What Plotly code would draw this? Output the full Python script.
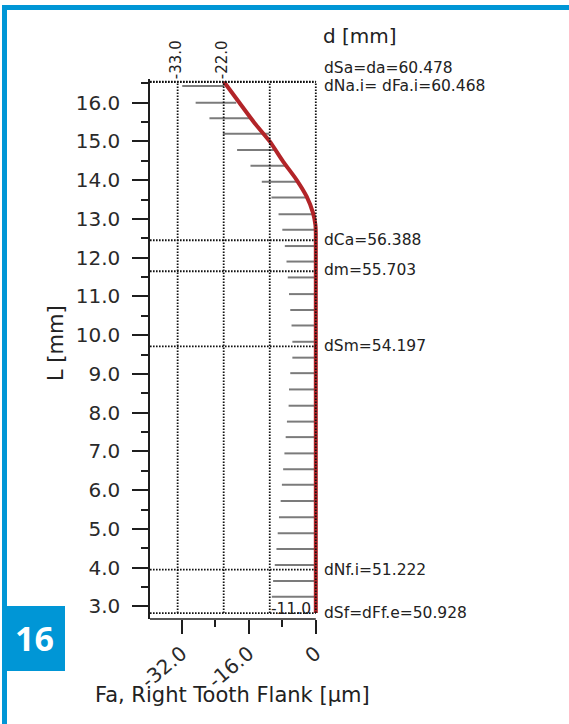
import plotly.graph_objects as go

# Roll length positions L [mm] of the evaluated flank points
bar_L = [16.43, 16.00, 15.60, 15.20, 14.78, 14.37, 13.96, 13.55, 13.12, 12.72,
         12.30, 11.90, 11.49, 11.06, 10.65, 10.25, 9.83, 9.42, 9.02, 8.60,
         8.18, 7.77, 7.37, 6.95, 6.54, 6.14, 5.72, 5.30, 4.89, 4.48,
         4.07, 3.66, 3.25]
# Deviation bars: start (left) and end (right) in micrometres
bar_start = [-31.9, -28.7, -25.4, -22.2, -18.8, -15.6, -12.9, -10.6, -8.9, -8.0,
             -7.4, -7.0, -6.7, -6.4, -6.1, -5.8, -5.6, -5.6, -6.1, -6.4,
             -6.5, -6.9, -7.2, -7.5, -7.8, -8.1, -8.4, -8.8, -9.1, -9.4,
             -9.8, -10.2, -10.5]
bar_end = [-21.9, -19.0, -15.8, -11.1, -9.8, -7.0, -4.4, -1.8, -0.65, 0.0,
           0.0, 0.0, 0.0, 0.0, 0.0, 0.0, 0.0, 0.0, 0.0, 0.0,
           0.0, 0.0, 0.0, 0.0, 0.0, 0.0, 0.0, 0.0, 0.0, 0.0,
           0.0, 0.0, 0.0]

# Profile modification (tip relief) curve
mod_L = [16.54, 15.99, 15.47, 15.00, 14.48, 14.01, 13.58, 13.15, 12.85, 12.64, 2.83]
mod_F = [-21.95, -18.2, -14.6, -11.0, -7.8, -4.6, -2.2, -0.65, -0.1, 0.0, 0.0]

# Characteristic diameters and their roll length positions
ref_labels = ["dSa=da=60.478", "dNa.i= dFa.i=60.468", "dCa=56.388", "dm=55.703",
              "dSm=54.197", "dNf.i=51.222", "dSf=dFf.e=50.928"]
ref_L = [16.54, 16.53, 12.45, 11.65, 9.71, 3.95, 2.83]

# Tolerance grid lines [µm]
tol_vals = [-33.0, -22.0, -11.0, 0.0]

# Axis ticks
y_ticks = [3, 4, 5, 6, 7, 8, 9, 10, 11, 12, 13, 14, 15, 16]
x_ticks = [-32.0, -16.0, 0.0]
x_ticktext = ["-32.0", "-16.0", "0"]
x_minor = [-24.0, -8.0]

# ---- layout geometry ----
W, H = 569, 724
ML, MR, MT, MB = 150, 249, 79, 105
PW, PH = W - ML - MR, H - MT - MB
X_RANGE = [-39.6, 1.0]
Y_RANGE = [2.677, 16.61]


def fx(px):
    return (px - ML) / PW


def fy(py):
    return (H - MB - py) / PH


FONT = "DejaVu Sans"
TXT = "#222222"
DOT = dict(color="#111111", width=1.8, dash="1.6px,1.4px")

fig = go.Figure()

# gray deviation bars
bx, by = [], []
for L, s, e in zip(bar_L, bar_start, bar_end):
    bx += [s, e, None]
    by += [L, L, None]
fig.add_trace(go.Scatter(x=bx, y=by, mode="lines",
                         line=dict(color="#7b7b7b", width=2),
                         hoverinfo="skip", showlegend=False))

# modification curve
fig.add_trace(go.Scatter(x=mod_F, y=mod_L, mode="lines",
                         line=dict(color="#b22428", width=4, shape="spline", smoothing=0.6),
                         showlegend=False))

shapes = []
# horizontal dotted lines at the characteristic diameters
for L in ref_L:
    shapes.append(dict(type="line", xref="x", yref="y", x0=X_RANGE[0], x1=0.0,
                       y0=L, y1=L, line=DOT, layer="above"))
# vertical dotted tolerance lines
for v in tol_vals:
    shapes.append(dict(type="line", xref="x", yref="y", x0=v, x1=v,
                       y0=ref_L[-1], y1=ref_L[0], line=DOT, layer="above"))
# bottom axis line ending at zero
shapes.append(dict(type="line", xref="x", yref="paper", x0=X_RANGE[0], x1=0.0,
                   y0=0, y1=0, line=dict(color="#1e1e1e", width=1.5)))

# blue frame and figure number box
BLUE = "#0096d6"
shapes.append(dict(type="rect", xref="paper", yref="paper", x0=fx(2), x1=fx(575),
                   y0=fy(5), y1=fy(10), fillcolor=BLUE, line=dict(width=0)))
shapes.append(dict(type="rect", xref="paper", yref="paper", x0=fx(2), x1=fx(7),
                   y0=fy(5), y1=fy(730), fillcolor=BLUE, line=dict(width=0)))
shapes.append(dict(type="rect", xref="paper", yref="paper", x0=fx(2), x1=fx(65),
                   y0=fy(606), y1=fy(671), fillcolor=BLUE, line=dict(width=0)))

annotations = []
label_shift = [14, -4, 0, 1, 0, 0, 0]
for text, L, sh in zip(ref_labels, ref_L, label_shift):
    annotations.append(dict(x=0.0, y=L, xref="x", yref="y", text=text, showarrow=False,
                            xanchor="left", yanchor="middle", xshift=6, yshift=sh,
                            font=dict(family=FONT, size=15.5, color=TXT)))
# tolerance values
for v in tol_vals[:2]:
    annotations.append(dict(x=v, y=1, xref="x", yref="paper", text=f"{v:.1f}",
                            showarrow=False, textangle=-90, xanchor="center",
                            yanchor="bottom", xshift=-2, yshift=-2,
                            font=dict(family=FONT, size=15, color=TXT)))
annotations.append(dict(x=tol_vals[2], y=ref_L[-1], xref="x", yref="y",
                        text=f"{tol_vals[2]:.1f}", showarrow=False,
                        xanchor="left", yanchor="middle", xshift=-1, yshift=4,
                        font=dict(family=FONT, size=15.5, color=TXT)))
# axis titles
annotations.append(dict(x=0.0, y=1, xref="x", yref="paper", text="d [mm]",
                        showarrow=False, xanchor="left", yanchor="middle",
                        xshift=5, yshift=43, font=dict(family=FONT, size=20, color=TXT)))
annotations.append(dict(x=0, y=0.5, xref="paper", yref="paper", text="L [mm]",
                        showarrow=False, textangle=-90, xanchor="center",
                        yanchor="middle", xshift=-94, yshift=6,
                        font=dict(family=FONT, size=21, color=TXT)))
annotations.append(dict(x=0.5, y=0, xref="paper", yref="paper",
                        text="Fa, Right Tooth Flank [µm]", showarrow=False,
                        xanchor="center", yanchor="middle", xshift=-3, yshift=-76,
                        font=dict(family=FONT, size=21, color=TXT)))
# figure number
annotations.append(dict(x=fx(34), y=fy(638), xref="paper", yref="paper", text="<b>16</b>",
                        showarrow=False, xanchor="center", yanchor="middle",
                        font=dict(family="Open Sans", size=34, color="white")))

fig.update_layout(
    width=W, height=H,
    margin=dict(l=ML, r=MR, t=MT, b=MB, pad=0),
    paper_bgcolor="white", plot_bgcolor="white",
    showlegend=False,
    shapes=shapes, annotations=annotations,
    xaxis=dict(range=X_RANGE, showgrid=False, zeroline=False, showline=False,
               tickvals=x_ticks, ticktext=x_ticktext, tickangle=-40,
               ticks="outside", ticklen=14, tickwidth=1.5, tickcolor="#1e1e1e",
               tickfont=dict(family=FONT, size=20, color="#2a2a2a"),
               minor=dict(tickvals=x_minor, ticks="outside", ticklen=7,
                          tickwidth=1.5, tickcolor="#1e1e1e")),
    yaxis=dict(range=Y_RANGE, showgrid=False, zeroline=False, showline=True,
               linecolor="#1e1e1e", linewidth=1.5,
               tickvals=y_ticks, tickformat=".1f",
               ticks="outside", ticklen=16, tickwidth=1.5, tickcolor="#1e1e1e",
               tickfont=dict(family=FONT, size=20, color="#2a2a2a"),
               ticklabelstandoff=8,
               minor=dict(dtick=0.5, tick0=3, ticks="outside", ticklen=7,
                          tickwidth=1.5, tickcolor="#1e1e1e")),
)

fig.write_html("out.html")
